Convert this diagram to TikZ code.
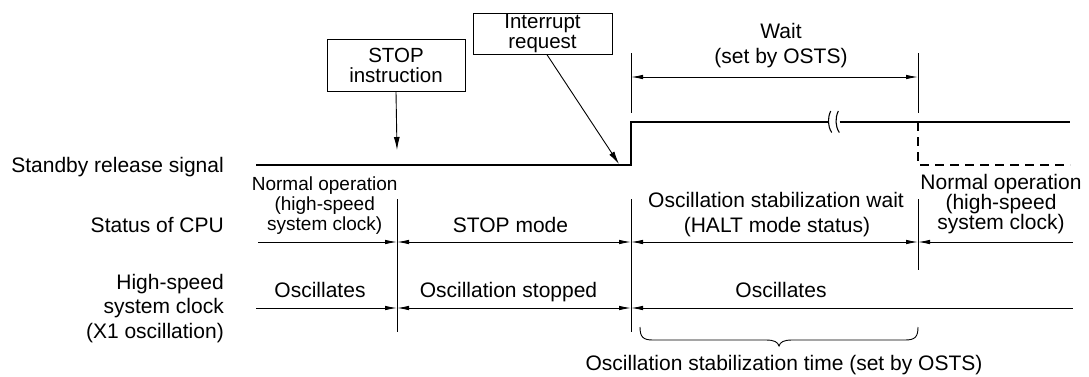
\documentclass[tikz,border=0pt]{standalone}
\usepackage{fontspec}
\setmainfont{Liberation Sans}
\usetikzlibrary{arrows.meta}
\begin{document}
\begin{tikzpicture}[x=1pt,y=-1pt,
  lbl/.style={inner sep=0pt, font=\fontsize{21}{24.5}\selectfont},
  smlbl/.style={inner sep=0pt, font=\fontsize{19}{20}\selectfont},
  boxlbl/.style={draw, line width=0.8pt, align=center, inner sep=0pt,
    font=\fontsize{20.5}{19.5}\selectfont},
  thinln/.style={line width=0.9pt},
  sigln/.style={line width=2.6pt},
  dashsig/.style={line width=2.6pt, dash pattern=on 9pt off 6pt},
  tipe/.style={-{Latex[length=12pt,width=4.5pt]}},
  tipb/.style={{Latex[length=12pt,width=4.5pt]}-{Latex[length=12pt,width=4.5pt]}},
  tips/.style={{Latex[length=12pt,width=4.5pt]}-},
  callarrow/.style={line width=0.9pt, -{Latex[length=13pt,width=6pt]}}]
\useasboundingbox (0,0) rectangle (1089,376);

% left labels
\node[lbl, anchor=base east] (lsig) at (224,172) {Standby release signal};
\node[lbl, anchor=base east] (lcpu) at (224,232) {Status of CPU};
\node[lbl, anchor=base east] (lclk1) at (224,289) {High-speed};
\node[lbl, anchor=base east] (lclk2) at (224,313.5) {system clock};
\node[lbl, anchor=base east] (lclk3) at (224,338) {(X1 oscillation)};

% boxes
\node[boxlbl, minimum width=138pt, minimum height=52.4pt] (stopbox) at (396,65.5) {STOP\\instruction};
\node[boxlbl, minimum width=139pt, minimum height=41pt] (irqbox) at (542.5,33.8) {Interrupt\\request};

% coordinates
\coordinate (sigA) at (256,165);
\coordinate (sigB) at (631,165);
\coordinate (sigC) at (631,122);
\coordinate (brkL) at (828.5,122);
\coordinate (brkR) at (839.5,122);
\coordinate (sigD) at (1070,122);
\coordinate (dshA) at (918,122);
\coordinate (dshB) at (918,165);
\coordinate (dshC) at (1070,165);
\coordinate (stopTip) at (397,150);
\coordinate (irqTip) at (619,164);

% signal
\draw[sigln] (sigA) -- (sigB) -- (sigC) -- (brkL);
\draw[sigln] (brkR) -- (sigD);
\draw[thinln, line width=1.1pt] (830.7,111) .. controls (827.5,118) and (827.5,126) .. (831.7,132.5);
\draw[thinln, line width=1.1pt] (838.3,111) .. controls (835.1,118) and (835.1,126) .. (839.3,132.5);
\draw[dashsig] (dshA) -- (dshB) -- (dshC);

% callout arrows
\draw[callarrow] (stopbox.south) -- (stopTip);
\draw[callarrow] ([xshift=4.5pt]irqbox.south) -- (irqTip);

% wait dimension
\coordinate (wt1) at (631,53); \coordinate (wb1) at (631,113);
\coordinate (wt2) at (918,53); \coordinate (wb2) at (918,113);
\coordinate (wa1) at (631,77); \coordinate (wa2) at (918,77);
\draw[thinln] (wt1) -- (wb1);
\draw[thinln] (wt2) -- (wb2);
\draw[thinln, tipb] (wa1) -- (wa2);
\node[lbl, anchor=base] (wait1) at (781,38) {Wait};
\node[lbl, anchor=base] (wait2) at (781,63) {(set by OSTS)};

% verticals
\coordinate (v1t) at (397,199); \coordinate (v1b) at (397,332);
\coordinate (v2t) at (631,199); \coordinate (v2b) at (631,332);
\coordinate (v3t) at (918,199); \coordinate (v3b) at (918,270);
\draw[thinln] (v1t) -- (v1b);
\draw[thinln] (v2t) -- (v2b);
\draw[thinln] (v3t) -- (v3b);

% CPU status line
\coordinate (c0) at (258,242); \coordinate (c1) at (397,242);
\coordinate (c2) at (631,242); \coordinate (c3) at (918,242);
\coordinate (c4) at (1073,242);
\draw[thinln, tipe] (c0) -- (c1);
\draw[thinln, tipb] (c1) -- (c2);
\draw[thinln, tipb] (c2) -- (c3);
\draw[thinln, tips] (c3) -- (c4);

% clock line
\coordinate (k0) at (256,308); \coordinate (k1) at (397,308);
\coordinate (k2) at (631,308); \coordinate (k4) at (1073,308);
\draw[thinln, tipe] (k0) -- (k1);
\draw[thinln, tipb] (k1) -- (k2);
\draw[thinln, tips] (k2) -- (k4);

% CPU status labels
\node[smlbl, anchor=base] (n1a) at (324.7,190) {Normal operation};
\node[smlbl, anchor=base] (n1b) at (324.7,210) {(high-speed};
\node[smlbl, anchor=base] (n1c) at (324.7,230) {system clock)};
\node[lbl, anchor=base] (stopm) at (510.5,232) {STOP mode};
\node[lbl, anchor=base] (osw1) at (776,207) {Oscillation stabilization wait};
\node[lbl, anchor=base] (osw2) at (777,232) {(HALT mode status)};
\node[lbl, anchor=base] (n2a) at (1001,189) {Normal operation};
\node[lbl, anchor=base] (n2b) at (1001,209) {(high-speed};
\node[lbl, anchor=base] (n2c) at (1001,229) {system clock)};

% clock labels
\node[lbl, anchor=base] (osc1) at (320,297) {Oscillates};
\node[lbl, anchor=base] (oscs) at (508.5,297) {Oscillation stopped};
\node[lbl, anchor=base] (osc2) at (781,297) {Oscillates};

% brace
\coordinate (brL) at (640,327);
\coordinate (brR) at (918,327);
\coordinate (brT) at (779,346);
\draw[thinln] (brL) .. controls (640,337) and (643,340) .. (653,340)
  -- (766,340) .. controls (774,340) and (778,342) .. (brT)
  .. controls (780,342) and (784,340) .. (792,340)
  -- (905,340) .. controls (915,340) and (918,337) .. (brR);
\node[lbl, anchor=base] (ostime) at (784,370) {Oscillation stabilization time (set by OSTS)};
\end{tikzpicture}
\end{document}
